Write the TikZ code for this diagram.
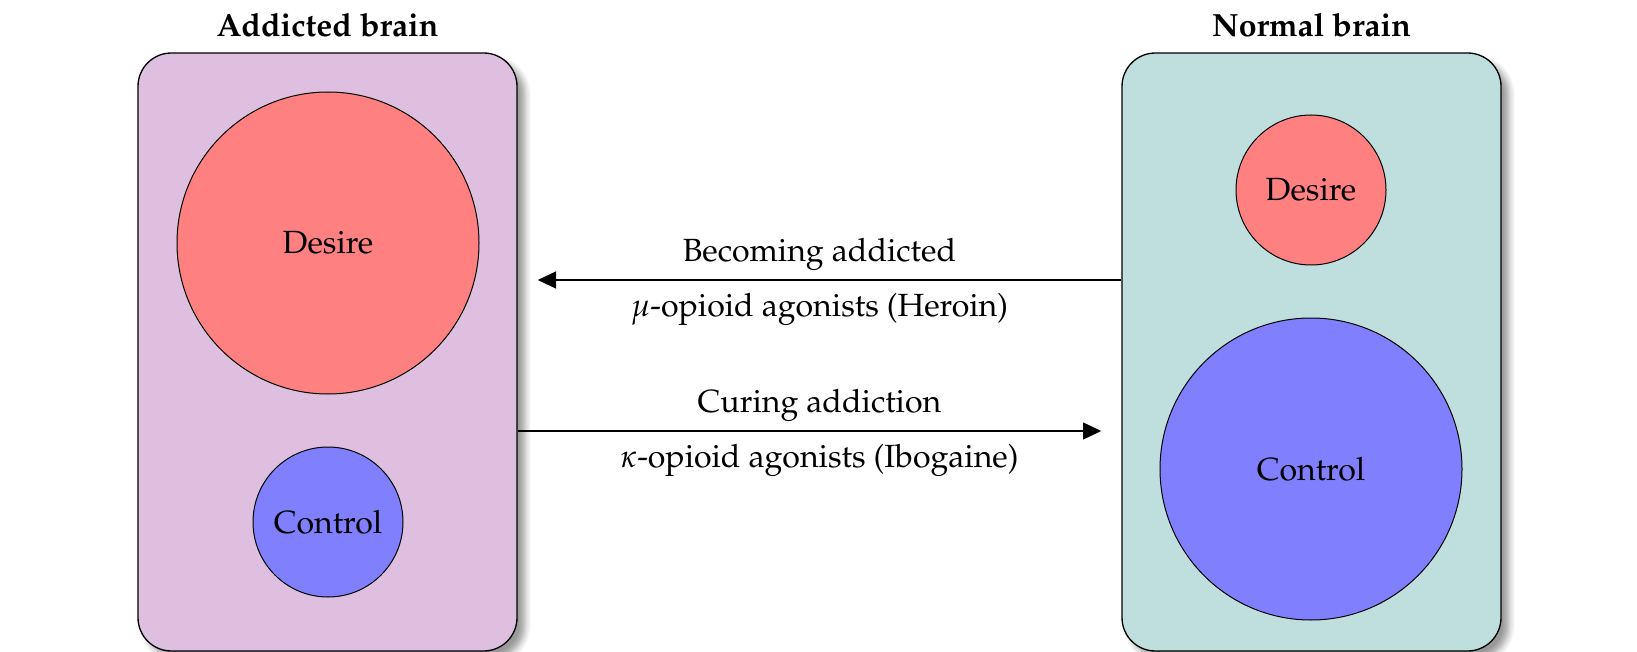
\documentclass[tikz,border=0pt]{standalone}
\usepackage[T1]{fontenc}
\usepackage{mathpazo}
\usetikzlibrary{arrows.meta,shadows.blur}

\newcommand{\brainfont}{\fontsize{9.63pt}{11.6pt}\selectfont}

\begin{document}
\begin{tikzpicture}[x=0.3pt,y=-0.3pt,
  every node/.style={font=\brainfont},
  brainbox/.style={draw, line width=0.4pt, rounded corners=10pt,
    minimum width=113.7pt, minimum height=179.4pt, inner sep=0pt,
    blur shadow={shadow blur steps=6}},
  title/.style={font=\brainfont\bfseries},
  bigcircle/.style={circle, draw, line width=0.3pt, minimum size=90.6pt, inner sep=0pt},
  smallcircle/.style={circle, draw, line width=0.3pt, minimum size=45pt, inner sep=0pt},
  arr/.style={-{Triangle[length=5.5pt,width=5pt]}, line width=0.7pt, shorten >=6pt},
]
\useasboundingbox (0,0) rectangle (1637,652);

% the two brains
\node[brainbox, fill=violet!25] (addicted) at (327.5,352) {};
\node[brainbox, fill=teal!25]   (normal)   at (1311.5,352) {};

\node[title] (taddicted) at (327.5,25) {Addicted brain};
\node[title] (tnormal)   at (1311.5,25) {Normal brain};

% desire and control in each brain
\node[bigcircle, fill=red!50]    (adesire)  at (328,243)  {Desire};
\node[smallcircle, fill=blue!50] (acontrol) at (328,522)  {Control};
\node[smallcircle, fill=red!50]  (ndesire)  at (1311,190) {Desire};
\node[bigcircle, fill=blue!50]   (ncontrol) at (1311,469) {Control};

% transitions between the two states
\coordinate (up)   at (0,280);
\coordinate (down) at (0,431);
\draw[arr] (normal.west |- up) -- (addicted.east |- up)
  node[midway, above=-0.8pt] (lbecome) {Becoming addicted}
  node[midway, below=0.2pt] (lmu) {$\mu$-opioid agonists (Heroin)};
\draw[arr] (addicted.east |- down) -- (normal.west |- down)
  node[midway, above=-0.8pt] (lcure) {Curing addiction}
  node[midway, below=0.2pt] (lkappa) {$\kappa$-opioid agonists (Ibogaine)};
\end{tikzpicture}
\end{document}
